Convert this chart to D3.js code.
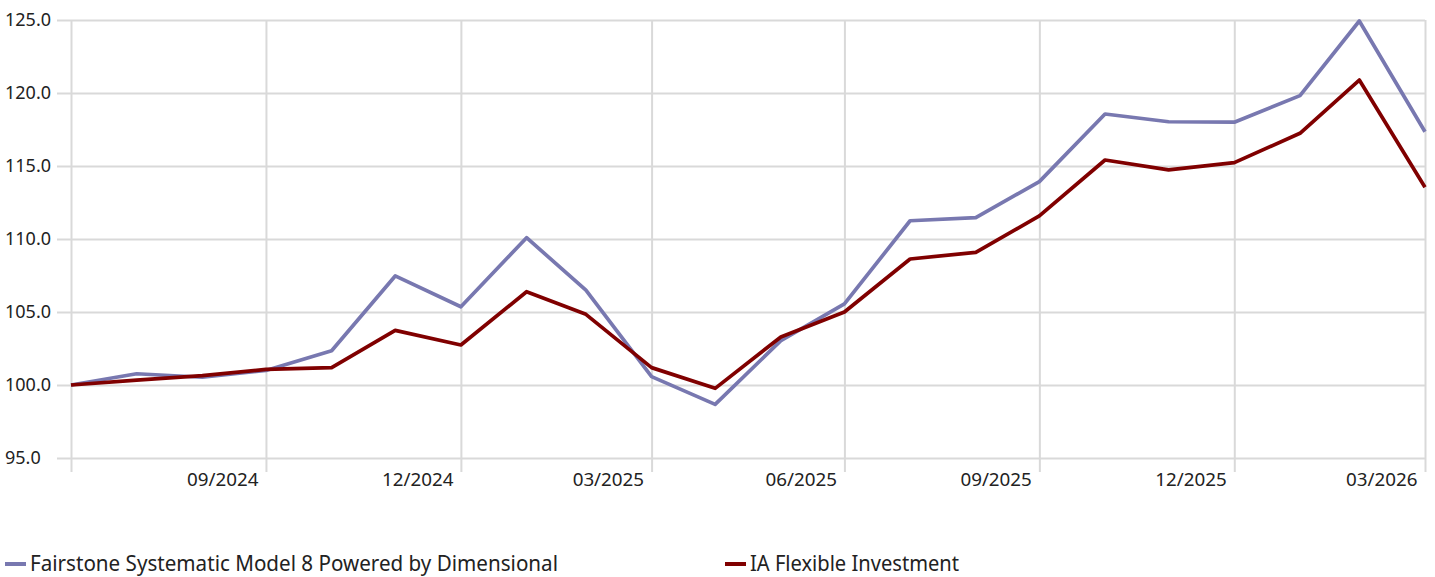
<!DOCTYPE html>
<html>
<head>
<meta charset="utf-8">
<script src="https://cdn.jsdelivr.net/npm/d3@7"></script>
<style>
  body { margin: 0; background: #fff; }
  svg text { font-family: "Noto Sans", "Open Sans", sans-serif; fill: #222; }
</style>
</head>
<body>
<div id="chart"></div>
<script>
// month-end dates
var dates = ["2024-06-30","2024-07-31","2024-08-31","2024-09-30","2024-10-31","2024-11-30",
             "2024-12-31","2025-01-31","2025-02-28","2025-03-31","2025-04-30","2025-05-31",
             "2025-06-30","2025-07-31","2025-08-31","2025-09-30","2025-10-31","2025-11-30",
             "2025-12-31","2026-01-31","2026-02-28","2026-03-31"]
var fairstone = [100.0,100.77,100.53,101.0,102.35,107.47,105.36,110.09,106.5,100.57,98.67,103.04,
                 105.55,111.25,111.46,113.93,118.56,118.03,118.0,119.82,124.93,117.35]
var iaFlex = [100.0,100.34,100.64,101.07,101.19,103.74,102.74,106.39,104.84,101.19,99.77,103.29,
              105.0,108.63,109.09,111.58,115.41,114.73,115.23,117.24,120.89,113.54]
var xTicks = ["2024-06-30","2024-09-30","2024-12-31","2025-03-31","2025-06-30","2025-09-30","2025-12-31","2026-03-31"]
var yTicks = [95,100,105,110,115,120,125]
var seriesNames = ["Fairstone Systematic Model 8 Powered by Dimensional","IA Flexible Investment"]
var seriesColors = ["#7878b0","#800000"]

var W = 1435, H = 577
var plotL = 71, plotR = 1425, plotT = 20, plotB = 458

var parse = d3.timeParse("%Y-%m-%d")
var svg = d3.select("#chart").append("svg")
    .attr("width", W)
    .attr("height", H)

var x = d3.scaleTime()
    .domain([parse(dates[0]), parse(dates[dates.length-1])])
    .range([plotL, plotR])
var y = d3.scaleLinear()
    .domain([95,125])
    .range([plotB, plotT])

// y grid + labels
var gy = svg.append("g")
    .attr("transform","translate(57,0)")
    .call(d3.axisLeft(y).tickValues(yTicks).tickSize(-(plotR-57)).tickFormat(d3.format(".1f")))
gy.select(".domain").remove()
gy.selectAll(".tick line").attr("stroke","#d9d9d9").attr("stroke-width",2)
gy.selectAll(".tick text")
    .attr("x",-52).attr("text-anchor","start").attr("dy","0.3em")
    .style("font-size","18px").attr("fill","#222")

// x grid + labels
var fmt = d3.timeFormat("%m/%Y")
var gx = svg.append("g")
    .attr("transform","translate(0,472)")
    .call(d3.axisBottom(x).tickValues(xTicks.map(parse)).tickSize(-(472-plotT)).tickPadding(1)
      .tickFormat(function(d,i){ return i == 0 ? "" : fmt(d) }))
gx.select(".domain").remove()
gx.selectAll(".tick line").attr("stroke","#d9d9d9").attr("stroke-width",2)
gx.selectAll(".tick text")
    .attr("text-anchor","end").attr("x",-8)
    .style("font-size","18.8px").attr("fill","#222")

// lines
var line = d3.line()
    .x(function(d,i){ return x(parse(dates[i])) })
    .y(function(d){ return y(d) })
;[fairstone, iaFlex].forEach(function(s,k){
  svg.append("path")
    .datum(s)
    .attr("d", line)
    .attr("fill","none")
    .attr("stroke", seriesColors[k])
    .attr("stroke-width",3.7)
    .attr("stroke-linejoin","round")
})

// legend
var legX = [5, 725], legW = [528, 209]
seriesNames.forEach(function(n,k){
  var g = svg.append("g").attr("transform","translate(" + legX[k] + ",564)")
  g.append("line").attr("x1",0).attr("x2",21).attr("y1",0).attr("y2",0)
    .attr("stroke",seriesColors[k]).attr("stroke-width",4)
  g.append("text").attr("x",25).attr("dy","0.35em")
    .style("font-size","21px")
    .attr("textLength",legW[k]).attr("lengthAdjust","spacingAndGlyphs")
    .text(n)
})
</script>
</body>
</html>
